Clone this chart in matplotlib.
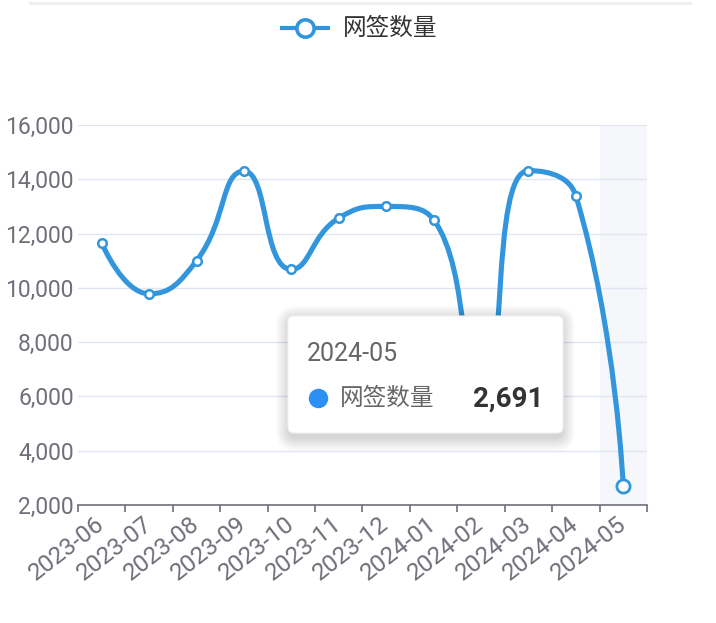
import numpy as np
import matplotlib
matplotlib.use('Agg')
import matplotlib.pyplot as plt
from matplotlib.path import Path
from matplotlib.patches import PathPatch, FancyBboxPatch
from matplotlib.lines import Line2D
from matplotlib.transforms import IdentityTransform

plt.rcParams['font.family'] = ['Roboto', 'Noto Sans CJK SC', 'DejaVu Sans']

# 数据
months = ['2023-06', '2023-07', '2023-08', '2023-09', '2023-10', '2023-11',
          '2023-12', '2024-01', '2024-02', '2024-03', '2024-04', '2024-05']
signings = [11650, 9780, 11000, 14300, 10680, 12570,
            13000, 12510, 5800, 14320, 13390, 2691]
series_name = '网签数量'
y_ticks = [2000, 4000, 6000, 8000, 10000, 12000, 14000, 16000]
hover_idx = 11

line_color = '#3396dc'
axis_color = '#6e7079'
grid_color = '#e0e6f1'

W, H = 716, 623
fig = plt.figure(figsize=(W / 100, H / 100), dpi=100)
fig.patch.set_facecolor('white')

# 绘图区 (像素: 左78 右647 上125 下505)
ax = fig.add_axes([78 / W, 1 - 505 / H, (647 - 78) / W, (505 - 125) / H])
n = len(months)
x = np.arange(n)
ax.set_xlim(-0.5, n - 0.5)
ax.set_ylim(y_ticks[0], y_ticks[-1])

for s in ['top', 'right', 'left']:
    ax.spines[s].set_visible(False)
ax.spines['bottom'].set_color(axis_color)
ax.spines['bottom'].set_linewidth(1.2)

ax.set_yticks(y_ticks)
ax.set_yticklabels([f'{v:,}' for v in y_ticks])
ax.tick_params(axis='y', length=0, pad=3, labelsize=16.5, labelcolor=axis_color)
ax.yaxis.grid(True, color=grid_color, linewidth=1)
ax.set_axisbelow(True)

ax.set_xticks(x)
ax.set_xticklabels(months, rotation=38, ha='right', va='center',
                   rotation_mode='anchor')
ax.tick_params(axis='x', which='major', length=0, pad=12, labelsize=17.5,
               labelcolor=axis_color)
ax.set_xticks(np.arange(n + 1) - 0.5, minor=True)
ax.tick_params(axis='x', which='minor', length=5, width=1.2, color=axis_color,
               direction='out')

# 悬停阴影
ax.axvspan(hover_idx - 0.5, hover_idx + 0.5, color='#f6f7fb', zorder=0, lw=0)


def echarts_smooth(px, py, smooth=0.5):
    verts = [(px[0], py[0])]
    codes = [Path.MOVETO]
    c0x, c0y = px[0], py[0]
    m = len(px)
    for i in range(1, m):
        cx, cy = px[i], py[i]
        prx, pry = px[i - 1], py[i - 1]
        if i == m - 1:
            c1x, c1y = cx, cy
            nx0, ny0 = cx, cy
        else:
            nxx, nxy = px[i + 1], py[i + 1]
            vx, vy = nxx - prx, nxy - pry
            lp = np.hypot(cx - prx, cy - pry)
            ln = np.hypot(nxx - cx, nxy - cy)
            r = ln / (ln + lp)
            nx0 = cx + vx * smooth * r
            ny0 = cy + vy * smooth * r
            nx0 = max(min(nx0, max(nxx, cx)), min(nxx, cx))
            ny0 = max(min(ny0, max(nxy, cy)), min(nxy, cy))
            vx, vy = nx0 - cx, ny0 - cy
            c1x = cx - vx * lp / ln
            c1y = cy - vy * lp / ln
            c1x = max(min(c1x, max(prx, cx)), min(prx, cx))
            c1y = max(min(c1y, max(pry, cy)), min(pry, cy))
            vx, vy = cx - c1x, cy - c1y
            nx0 = cx + vx * ln / lp
            ny0 = cy + vy * ln / lp
        verts += [(c0x, c0y), (c1x, c1y), (cx, cy)]
        codes += [Path.CURVE4] * 3
        c0x, c0y = nx0, ny0
    return verts, codes


pix = ax.transData.transform(np.column_stack([x, signings]))
verts, codes = echarts_smooth(pix[:, 0], pix[:, 1])
data_verts = ax.transData.inverted().transform(np.array(verts))
ax.add_patch(PathPatch(Path(data_verts, codes), fill=False, edgecolor=line_color,
                       lw=3.7, capstyle='round', joinstyle='round', zorder=3))

ax.plot(x[:hover_idx], signings[:hover_idx], linestyle='none', marker='o',
        markersize=6.2, markerfacecolor='white', markeredgecolor=line_color,
        markeredgewidth=1.8, zorder=4)
ax.plot(x[hover_idx], signings[hover_idx], linestyle='none', marker='o',
        markersize=9.5, markerfacecolor='white', markeredgecolor=line_color,
        markeredgewidth=2.0, zorder=4)


def fx(px_):
    return px_ / W


def fy(py_):
    return 1 - py_ / H


# 顶部细线
fig.add_artist(Line2D([fx(30), fx(690)], [fy(3), fy(3)], color='#eeeeee', lw=2))

# 图例
fig.add_artist(Line2D([fx(280), fx(330)], [fy(28), fy(28)], color=line_color,
                      lw=3, solid_capstyle='butt'))
fig.add_artist(Line2D([fx(305)], [fy(28)], marker='o', markersize=12.5,
                      markerfacecolor='white', markeredgecolor=line_color,
                      markeredgewidth=2.6))
fig.text(fx(343), fy(28), series_name, fontsize=17, color='#333333',
         va='center', ha='left')

# 提示框
bx0, by0, bx1, by1 = 288, 316, 563, 433
for k in range(14, 0, -1):
    fig.patches.append(FancyBboxPatch(
        (bx0 - k + 2, H - by1 - k - 4), (bx1 - bx0) + 2 * k - 4, (by1 - by0) + 2 * k,
        boxstyle=f'round,pad=0,rounding_size={6 + k}', transform=IdentityTransform(),
        facecolor='black', edgecolor='none', alpha=0.01, figure=fig))
fig.patches.append(FancyBboxPatch(
    (bx0, H - by1), bx1 - bx0, by1 - by0, boxstyle='round,pad=0,rounding_size=6',
    transform=IdentityTransform(), facecolor='white', edgecolor='#f2f2f2', lw=0.8,
    figure=fig))
fig.text(fx(307), fy(354), months[hover_idx], fontsize=18, color='#666666',
         va='center', ha='left')
fig.add_artist(Line2D([fx(318)], [fy(398)], marker='o', markersize=14,
                      markerfacecolor='#2b8ff3', markeredgecolor='none'))
fig.text(fx(340), fy(398), series_name, fontsize=17, color='#666666',
         va='center', ha='left')
fig.text(fx(543), fy(399), f'{signings[hover_idx]:,}', fontsize=20, color='#333333',
         fontweight='bold', va='center', ha='right')

fig.savefig('out.png', dpi=100, facecolor='white')
